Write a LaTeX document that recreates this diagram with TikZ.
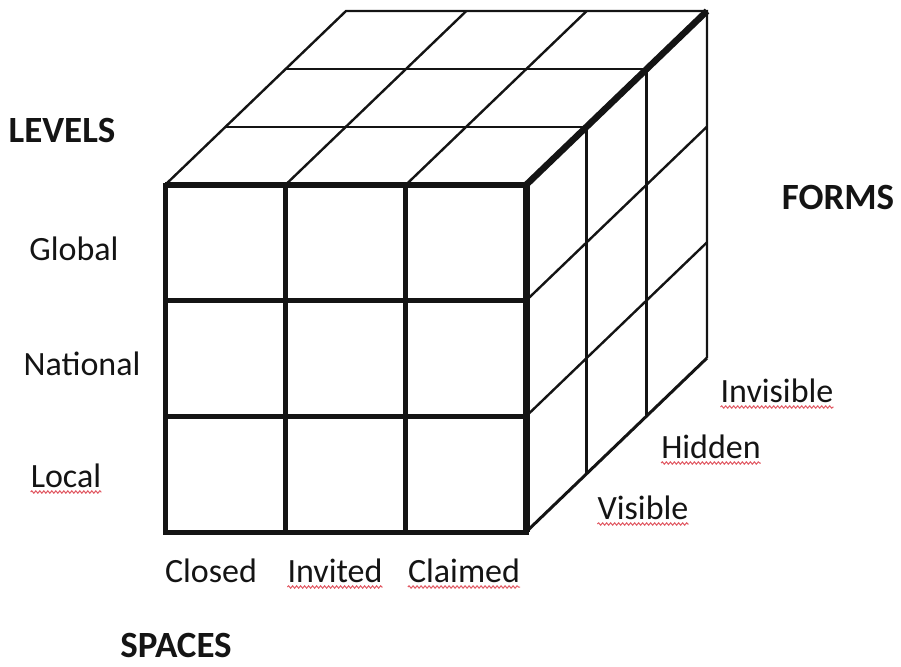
\documentclass[tikz,border=0pt]{standalone}
\usepackage{fontspec}
\setmainfont{Carlito}
\usetikzlibrary{calc, decorations.pathmorphing}
\definecolor{inkcol}{RGB}{20, 20, 20}
\definecolor{spellcol}{RGB}{225, 90, 100}
\tikzset{
  edgethin/.style  = {draw=inkcol, line width=2.4pt},
  edgefront/.style = {draw=inkcol, line width=5pt},
  edgebold/.style  = {draw=inkcol, line width=6.5pt},
  lbl/.style       = {text=inkcol, inner sep=0pt, anchor=base,
                      font=\fontsize{34}{40}\selectfont},
  axis/.style      = {lbl, font=\fontsize{37}{42}\selectfont\bfseries},
  % the wavy red marks the spell checker left under some words
  squiggle/.style  = {draw=spellcol, line width=1pt,
                      decorate, decoration={snake, amplitude=1.2pt,
                      segment length=4pt}},
}

\begin{document}
\begin{tikzpicture}[x=1pt, y=-1pt]
  \useasboundingbox (0,0) rectangle (901,666);

  %% ---------------- the cube corners ----------------
  \coordinate (A) at (165,185);   % front, top left
  \coordinate (B) at (526,185);   % front, top right
  \coordinate (C) at (526,532);   % front, bottom right
  \coordinate (D) at (165,532);   % front, bottom left
  \coordinate (E) at (346,11);    % back, top left
  \coordinate (F) at (707,11);    % back, top right
  \coordinate (G) at (707,358);   % back, bottom right

  %% ---------------- top and side faces ----------------
  \foreach \t in {0.3333,0.6667} {
    \draw[edgethin] ($(A)!\t!(B)$) -- ($(E)!\t!(F)$);
    \draw[edgethin] ($(A)!\t!(E)$) -- ($(B)!\t!(F)$);
    \draw[edgethin] ($(B)!\t!(F)$) -- ($(C)!\t!(G)$);
    \draw[edgethin] ($(B)!\t!(C)$) -- ($(F)!\t!(G)$);
  }
  \draw[edgethin] (A) -- (E) -- (F) -- (G);
  \draw[draw=inkcol, line width=3pt] (C) -- (G);
  \draw[edgebold] (B) -- (F);

  %% ---------------- front face ----------------
  \foreach \t in {0.3333,0.6667} {
    \draw[edgefront] ($(A)!\t!(B)$) -- ($(D)!\t!(C)$);
    \draw[edgefront] ($(A)!\t!(D)$) -- ($(B)!\t!(C)$);
  }
  \draw[edgefront] (A) rectangle (C);
  \draw[edgebold] (A) -- (B);
  \draw[draw=inkcol, line width=7pt] (B) -- (C);

  %% ---------------- levels ----------------
  \node[axis] (levels) at (62,142) {LEVELS};
  \node[lbl] (global) at (74,260) {Global};
  \node[lbl] (national) at (82,375) {National};
  \node[lbl] (local) at (66,487) {Local};

  %% ---------------- spaces ----------------
  \node[lbl] (closed) at (211,582) {Closed};
  \node[lbl] (invited) at (335,582) {Invited};
  \node[lbl] (claimed) at (464,582) {Claimed};
  \node[axis] (spaces) at (176,657) {SPACES};

  %% ---------------- forms ----------------
  \node[axis] (forms) at (838,209) {FORMS};
  \node[lbl] (invisible) at (777,402) {Invisible};
  \node[lbl] (hidden) at (711,458) {Hidden};
  \node[lbl] (visible) at (643,519) {Visible};

  %% ---------------- spell marks ----------------
  \foreach \w in {local, invited, claimed, invisible, hidden, visible}
    \draw[squiggle] ([yshift=-5pt]\w.base west) -- ([yshift=-5pt]\w.base east);

\end{tikzpicture}
\end{document}
